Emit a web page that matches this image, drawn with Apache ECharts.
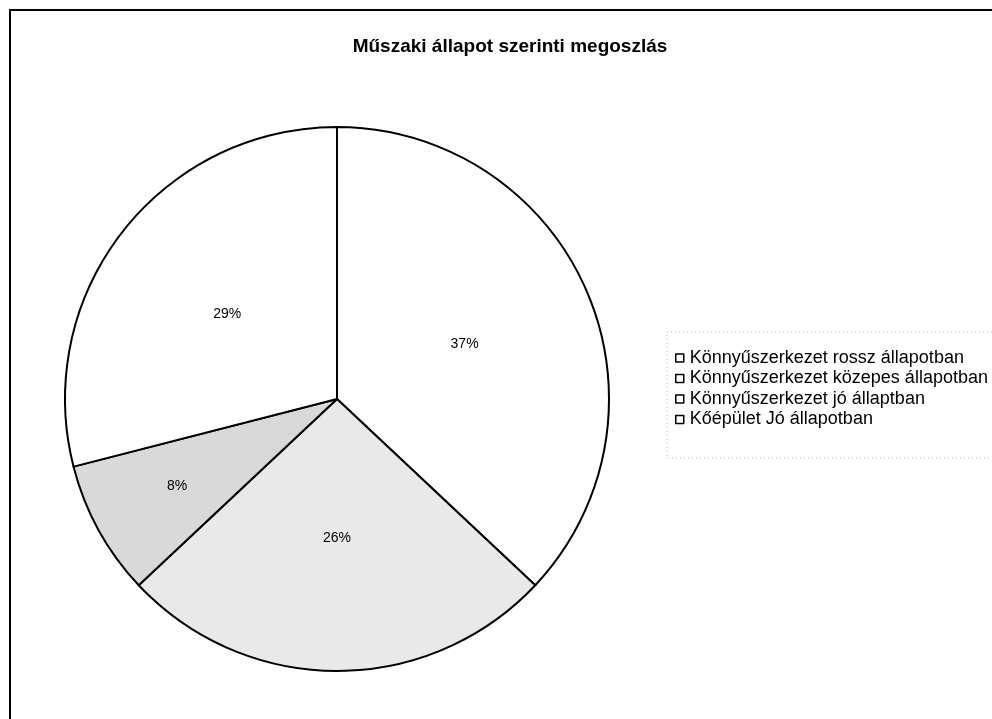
<!DOCTYPE html>
<html>
<head>
<meta charset="utf-8">
<script src="https://cdn.jsdelivr.net/npm/echarts@6/dist/echarts.min.js"></script>
<style>html,body{margin:0;padding:0;background:#fff;}#c{width:992px;height:719px;}</style>
</head>
<body>
<div id="c"></div>
<script>
var titleText = 'Műszaki állapot szerinti megoszlás';
var categories = ['Könnyűszerkezet rossz állapotban', 'Könnyűszerkezet közepes állapotban', 'Könnyűszerkezet jó állaptban', 'Kőépület Jó állapotban'];
var values = [37, 26, 8, 29];
var sliceColors = ['#ffffff', '#e9e9e9', '#d9d9d9', '#ffffff'];

var chart = echarts.init(document.getElementById('c'), null, {renderer: 'canvas'});
var data = categories.map(function (n, i) {
  return {name: n, value: values[i], itemStyle: {color: sliceColors[i]}};
});
chart.setOption({
  animation: false,
  backgroundColor: '#fff',
  title: {
    text: titleText,
    left: 505, top: 32, textAlign: 'center',
    textStyle: {fontFamily: 'Liberation Sans', fontSize: 19, fontWeight: 'bold', color: '#000'}
  },
  graphic: [
    {type: 'rect', shape: {x: 10, y: 10, width: 1200, height: 1000}, style: {fill: 'none', stroke: '#000', lineWidth: 2}, silent: true},
    {type: 'rect', shape: {x: 667, y: 332, width: 400, height: 126}, style: {fill: 'none', stroke: '#bbb', lineWidth: 1, lineDash: [1, 3]}, silent: true}
  ],
  legend: {
    orient: 'vertical',
    left: 670, top: 344,
    itemWidth: 8, itemHeight: 8, itemGap: 2.5,
    icon: 'rect',
    itemStyle: {borderColor: '#000', borderWidth: 1.5, color: '#fff'},
    textStyle: {fontFamily: 'Liberation Sans', fontSize: 18, color: '#000', lineHeight: 18, padding: [0, 0, 0, 1]},
    data: categories
  },
  series: [{
    type: 'pie',
    center: [337, 399],
    radius: 272,
    startAngle: 90,
    clockwise: true,
    silent: true,
    itemStyle: {borderColor: '#000', borderWidth: 2},
    label: {
      show: true, position: 'inside',
      formatter: function (p) { return p.value + '%'; },
      fontFamily: 'Liberation Sans', fontSize: 14, color: '#000'
    },
    labelLayout: function (p) {
      if (p.dataIndex === 2) { return {dx: -38, dy: 20}; }
      return {};
    },
    labelLine: {show: false},
    data: data
  }]
});
</script>
</body>
</html>
